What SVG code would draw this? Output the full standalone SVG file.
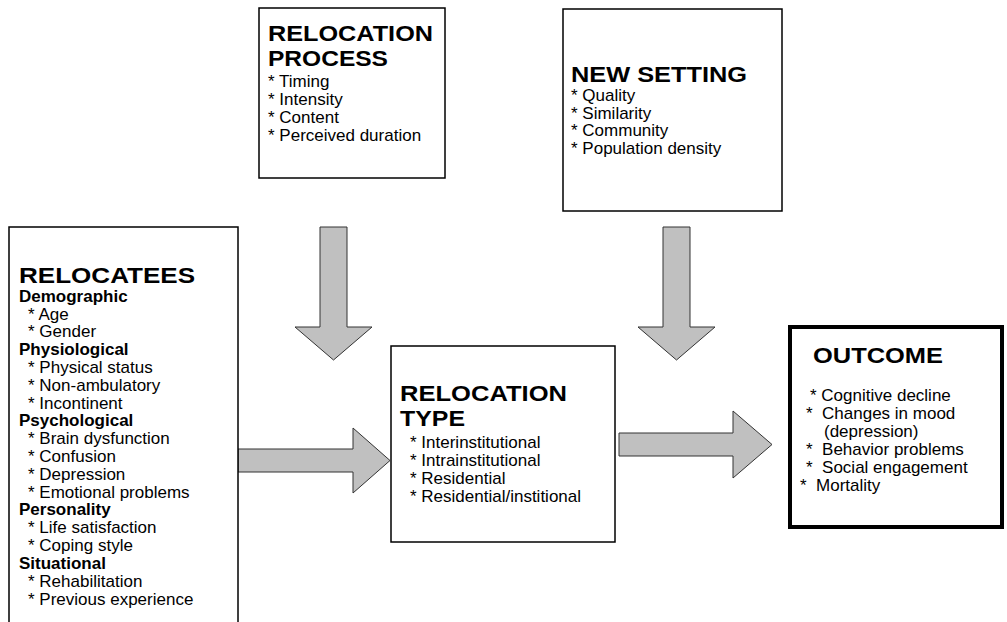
<svg xmlns="http://www.w3.org/2000/svg" width="1007" height="622" viewBox="0 0 1007 622">
<style>
.box{fill:#fff;stroke:#000;stroke-width:1.5}
.thick{fill:#fff;stroke:#000;stroke-width:4}
.arrow{fill:#c0c0c0;stroke:#333;stroke-width:1}
text{font-family:"Liberation Sans",Arial,sans-serif;fill:#000;white-space:pre}
.t{font-size:22px;font-weight:bold}
.h{font-size:17px;font-weight:bold}
.b{font-size:17px}
</style>
<rect width="1007" height="622" fill="#fff"/>
<g id="connectors">
<polygon class="arrow" points="320,227 347,227 347,327 372,327 333.5,360 295,327 320,327"/>
<polygon class="arrow" points="663,227 690,227 690,327 715,327 676.5,360 638,327 663,327"/>
<polygon class="arrow" points="238,449 353,449 353,428 390,460.5 353,493 353,472 238,472"/>
<polygon class="arrow" points="619,433 733,433 733,411 772,444.5 733,478 733,456 619,456"/>
</g>
<g id="relocation-process">
<rect class="box" x="259" y="8" width="186" height="170"/>
<text class="t" x="268" y="41" textLength="165" lengthAdjust="spacingAndGlyphs">RELOCATION</text>
<text class="t" x="268" y="66" textLength="120" lengthAdjust="spacingAndGlyphs">PROCESS</text>
<text class="b" x="268" y="87">* Timing</text>
<text class="b" x="268" y="105">* Intensity</text>
<text class="b" x="268" y="123">* Content</text>
<text class="b" x="268" y="141">* Perceived duration</text>
</g>
<g id="new-setting">
<rect class="box" x="563" y="9" width="219" height="202"/>
<text class="t" x="571" y="82" textLength="176" lengthAdjust="spacingAndGlyphs">NEW SETTING</text>
<text class="b" x="571" y="101">* Quality</text>
<text class="b" x="571" y="119">* Similarity</text>
<text class="b" x="571" y="136">* Community</text>
<text class="b" x="571" y="154">* Population density</text>
</g>
<g id="relocatees">
<rect class="box" x="9" y="227" width="229" height="420"/>
<text class="t" x="19" y="283" textLength="176" lengthAdjust="spacingAndGlyphs">RELOCATEES</text>
<text class="h" x="19" y="302">Demographic</text>
<text class="b" x="28" y="320">* Age</text>
<text class="b" x="28" y="337">* Gender</text>
<text class="h" x="19" y="355">Physiological</text>
<text class="b" x="28" y="373">* Physical status</text>
<text class="b" x="28" y="391">* Non-ambulatory</text>
<text class="b" x="28" y="409">* Incontinent</text>
<text class="h" x="19" y="426">Psychological</text>
<text class="b" x="28" y="444">* Brain dysfunction</text>
<text class="b" x="28" y="462">* Confusion</text>
<text class="b" x="28" y="480">* Depression</text>
<text class="b" x="28" y="498">* Emotional problems</text>
<text class="h" x="19" y="515">Personality</text>
<text class="b" x="28" y="533">* Life satisfaction</text>
<text class="b" x="28" y="551">* Coping style</text>
<text class="h" x="19" y="569">Situational</text>
<text class="b" x="28" y="587">* Rehabilitation</text>
<text class="b" x="28" y="605">* Previous experience</text>
</g>
<g id="relocation-type">
<rect class="box" x="391" y="346" width="224" height="196"/>
<text class="t" x="400" y="401" textLength="167" lengthAdjust="spacingAndGlyphs">RELOCATION</text>
<text class="t" x="400" y="426" textLength="65" lengthAdjust="spacingAndGlyphs">TYPE</text>
<text class="b" x="410" y="448">* Interinstitutional</text>
<text class="b" x="410" y="466">* Intrainstitutional</text>
<text class="b" x="410" y="484">* Residential</text>
<text class="b" x="410" y="502">* Residential/institional</text>
</g>
<g id="outcome">
<rect class="thick" x="790" y="327" width="212" height="200"/>
<text class="t" x="813" y="363" textLength="130" lengthAdjust="spacingAndGlyphs">OUTCOME</text>
<text class="b" x="810" y="401">* Cognitive decline</text>
<text class="b" x="806" y="419">*  Changes in mood</text>
<text class="b" x="824" y="437">(depression)</text>
<text class="b" x="806" y="455">*  Behavior problems</text>
<text class="b" x="806" y="473">*  Social engagement</text>
<text class="b" x="800" y="491">*  Mortality</text>
</g>
</svg>
